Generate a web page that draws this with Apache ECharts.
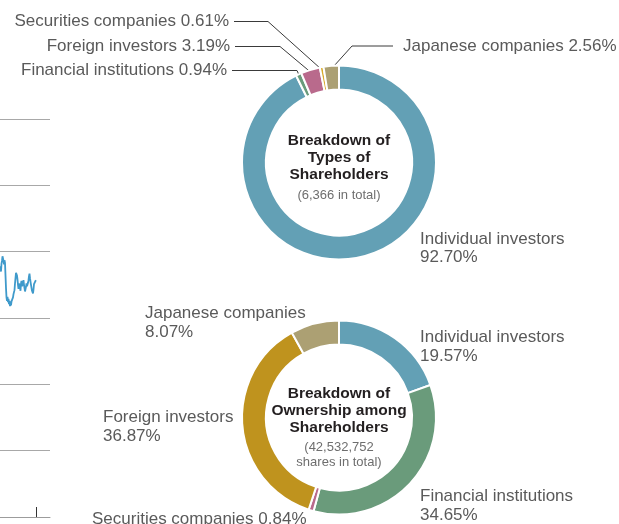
<!DOCTYPE html>
<html>
<head>
<meta charset="utf-8">
<script src="https://cdn.jsdelivr.net/npm/echarts@6/dist/echarts.min.js"></script>
<style>
  html, body { margin: 0; padding: 0; background: #ffffff; }
  #chart { width: 619px; height: 524px; }
</style>
</head>
<body>
<div id="chart"></div>
<script>
// ---- Share price trend (right end of the price panel) ----
const priceSlots = Array.from({ length: 101 }, (_, i) => String(i));
const priceValues = [
  372, 378, 370, 382, 386, 393, 396, 386, 381, 387,
  383, 364, 345, 331, 326, 332, 324, 329, 321, 326,
  318, 323, 319, 325, 322, 328, 331, 336, 333, 342,
  352, 360, 368, 371, 364, 358, 350, 344, 352, 355,
  346, 341, 352, 356, 348, 346, 352, 357, 350, 345,
  340, 339, 347, 352, 348, 346, 353, 357, 363, 367,
  360, 355, 350, 347, 341, 338, 337, 343, 351, 348,
  354, 356, 357
];
const priceTickSlot = 72;
const priceMin = 0;
const priceMax = 600;
const priceStep = 100;

// ---- Breakdown of types of shareholders ----
const typeCategories = ['Individual investors', 'Financial institutions', 'Foreign investors', 'Securities companies', 'Japanese companies'];
const typeShares = [92.70, 0.94, 3.19, 0.61, 2.56];
const typeTitle = ['Breakdown of', 'Types of', 'Shareholders'];
const typeTotal = '6,366';

// ---- Breakdown of ownership among shareholders ----
const ownCategories = ['Individual investors', 'Financial institutions', 'Securities companies', 'Foreign investors', 'Japanese companies'];
const ownShares = [19.57, 34.65, 0.84, 36.87, 8.07];
const ownTitle = ['Breakdown of', 'Ownership among', 'Shareholders'];
const ownTotal = '42,532,752';

// ---- styling ----
const typeColors = ['#63a0b5', '#6a9b7b', '#b96a8c', '#d8aa2c', '#aca073'];
const ownColors  = ['#63a0b5', '#6a9b7b', '#b96a8c', '#bf931e', '#aca073'];
const FONT = '"Liberation Sans", Arial, Helvetica, sans-serif';
const LABEL_COLOR = '#5a5a5a';

const typeCenter = [339, 162.5];
const ownCenter = [339, 417.5];
const ringRadius = [73, 97];

// label placement per slice (kink = x of the bend in the leader line)
const typeLabelPos = [
  { x: 420, y: 248.5, align: 'left', twoLine: true },
  { x: 227, y: 70.5, align: 'right', kink: 297 },
  { x: 230, y: 46.5, align: 'right', kink: 280 },
  { x: 229, y: 21.5, align: 'right', kink: 268 },
  { x: 403, y: 46, align: 'left', kink: 352 }
];
const ownLabelPos = [
  { x: 420, y: 347, align: 'left', twoLine: true },
  { x: 420, y: 506, align: 'left', twoLine: true },
  { x: 92, y: 519, align: 'left' },
  { x: 103, y: 427, align: 'left', twoLine: true },
  { x: 145, y: 323, align: 'left', twoLine: true }
];

function sliceAnchor(shares, index, center, r) {
  const total = shares.reduce((a, b) => a + b, 0);
  let before = 0;
  for (let i = 0; i < index; i++) before += shares[i];
  const frac = (before + shares[index] / 2) / total;
  const ang = Math.PI / 2 - frac * Math.PI * 2;
  return [center[0] + r * Math.cos(ang), center[1] - r * Math.sin(ang)];
}

function pieSeries(categories, shares, colors, positions, center) {
  return {
    type: 'pie',
    center: center,
    radius: ringRadius,
    startAngle: 90,
    clockwise: true,
    avoidLabelOverlap: false,
    animation: false,
    emphasis: { disabled: true },
    itemStyle: { borderColor: '#ffffff', borderWidth: 2 },
    label: {
      show: true,
      position: 'outside',
      fontFamily: FONT,
      fontSize: 17,
      lineHeight: 18.5,
      color: LABEL_COLOR,
      formatter: (p) => {
        const cfg = positions[p.dataIndex];
        const pct = p.value.toFixed(2) + '%';
        return cfg.twoLine ? p.name + '\n' + pct : p.name + ' ' + pct;
      }
    },
    labelLine: { show: true, smooth: false, lineStyle: { color: '#3a3a3a', width: 1 } },
    labelLayout: (params) => {
      const cfg = positions[params.dataIndex];
      const out = { x: cfg.x, y: cfg.y, align: cfg.align, verticalAlign: 'middle' };
      if (cfg.kink) {
        const p0 = sliceAnchor(shares, params.dataIndex, center, ringRadius[1] - 3);
        const end = cfg.align === 'right' ? cfg.x + 5 : cfg.x - 10;
        out.labelLinePoints = [p0, [cfg.kink, cfg.y], [end, cfg.y]];
      }
      return out;
    },
    data: categories.map((name, i) => ({
      name: name,
      value: shares[i],
      itemStyle: { color: colors[i] },
      labelLine: { show: !!positions[i].kink }
    }))
  };
}

function centerText(titleLines, subLines, center, titleY, subY, subLH) {
  return [
    {
      type: 'text', x: center[0], y: titleY, silent: true,
      style: {
        text: titleLines.join('\n'),
        font: 'bold 15.5px ' + FONT,
        fill: '#231f20', align: 'center', verticalAlign: 'middle', lineHeight: 16.8
      }
    },
    {
      type: 'text', x: center[0], y: subY, silent: true,
      style: {
        text: subLines.join('\n'),
        font: '13px ' + FONT,
        fill: '#6e6e6e', align: 'center', verticalAlign: 'middle', lineHeight: subLH
      }
    }
  ];
}

const chart = echarts.init(document.getElementById('chart'), null, { renderer: 'canvas' });

chart.setOption({
  animation: false,
  backgroundColor: '#ffffff',
  grid: { left: 0, top: 119, width: 50, height: 398, containLabel: false },
  xAxis: {
    type: 'category',
    data: priceSlots,
    boundaryGap: false,
    axisLine: { show: true, lineStyle: { color: '#9c9c9c', width: 1 } },
    axisTick: {
      show: true, inside: true, length: 10,
      interval: (idx) => idx === priceTickSlot,
      lineStyle: { color: '#333333', width: 1 }
    },
    axisLabel: { show: false },
    splitLine: { show: false }
  },
  yAxis: {
    type: 'value',
    min: priceMin, max: priceMax, interval: priceStep,
    axisLine: { show: false },
    axisTick: { show: false },
    axisLabel: { show: false },
    splitLine: { show: true, lineStyle: { color: '#a8a8a8', width: 1 } }
  },
  graphic: [
    ...centerText(typeTitle, ['(' + typeTotal + ' in total)'], typeCenter, 157.5, 195, 15),
    ...centerText(ownTitle, ['(' + ownTotal, 'shares in total)'], ownCenter, 411, 455, 14.5)
  ],
  series: [
    {
      type: 'line',
      data: priceValues,
      showSymbol: false,
      animation: false,
      lineStyle: { color: '#3f9acb', width: 1.8 },
      z: 3
    },
    pieSeries(typeCategories, typeShares, typeColors, typeLabelPos, typeCenter),
    pieSeries(ownCategories, ownShares, ownColors, ownLabelPos, ownCenter)
  ]
});
</script>
</body>
</html>
